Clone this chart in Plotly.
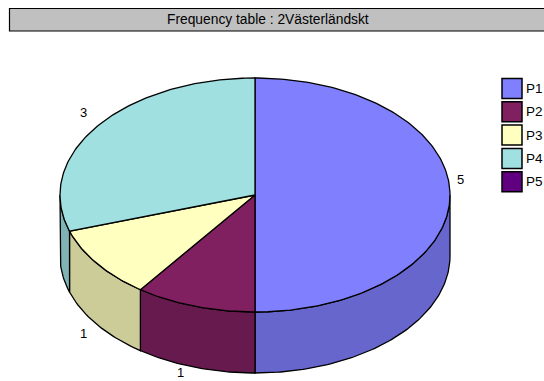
import numpy as np
import plotly.graph_objects as go

title = "Frequency table : 2Västerländskt"
categories = ["P1", "P2", "P3", "P4", "P5"]
frequencies = [5, 1, 1, 3, 0]
top_colors = ["#8080FF", "#802060", "#FFFFC0", "#A0E0E0", "#600080"]
wall_colors = ["#6666CC", "#661A4D", "#CCCC99", "#80B3B3", "#4D0066"]

WIDTH, HEIGHT = 544, 381
CX, CY, RX, RY, DEPTH = 255, 195, 195, 117, 61
OUTLINE = "#000000"
FONT = "Liberation Sans"


def ellipse(start, end, drop=0.0):
    """Rim points between two clockwise angles measured from twelve o'clock."""
    steps = max(2, int(abs(end - start) * 60) + 2)
    t = np.linspace(start, end, steps)
    return CX + RX * np.sin(t), CY - RY * np.cos(t) + drop


fig = go.Figure()

total = sum(frequencies)
edges = np.concatenate([[0], np.cumsum(frequencies)]) / total * 2 * np.pi

# Outer walls, only the part of each slice on the near half of the disc
for i in range(len(categories)):
    a = max(edges[i], np.pi / 2)
    b = min(edges[i + 1], 3 * np.pi / 2)
    if b <= a:
        continue
    xt, yt = ellipse(a, b)
    xb, yb = ellipse(b, a, DEPTH)
    fig.add_trace(go.Scatter(
        x=np.concatenate([xt, xb, xt[:1]]),
        y=np.concatenate([yt, yb, yt[:1]]),
        mode="lines", fill="toself", fillcolor=wall_colors[i],
        line=dict(color=OUTLINE, width=1.3), hoverinfo="skip", showlegend=False,
    ))

# Top faces of the slices
for i, name in enumerate(categories):
    if frequencies[i] == 0:
        continue
    xr, yr = ellipse(edges[i], edges[i + 1])
    fig.add_trace(go.Scatter(
        x=np.concatenate([[CX], xr, [CX]]),
        y=np.concatenate([[CY], yr, [CY]]),
        mode="lines", fill="toself", fillcolor=top_colors[i],
        line=dict(color=OUTLINE, width=1.3), name=name, showlegend=False,
        hovertemplate=f"{name}: {frequencies[i]}<extra></extra>",
    ))

# Key on the right: one square swatch per category
key_y = [88.5 + 23.3 * i for i in range(len(categories))]
fig.add_trace(go.Scatter(
    x=[512] * len(categories), y=key_y, mode="markers",
    marker=dict(symbol="square", size=20, color=top_colors,
                line=dict(color="#000000", width=1.5)),
    hoverinfo="skip", showlegend=False,
))

annotations = [
    dict(x=526, y=y, xref="x", yref="y", text=c, showarrow=False, xanchor="left",
         xshift=-2, font=dict(family=FONT, size=13.5, color="#000000"))
    for c, y in zip(categories, key_y)
]

# Value labels placed around the disc
value_labels = [("5", 460, 179), ("1", 180, 372.5), ("1", 83, 333), ("3", 83, 112)]
annotations += [
    dict(x=x, y=y, xref="x", yref="y", text=t, showarrow=False, borderpad=0,
         font=dict(family=FONT, size=13, color="#000000"))
    for t, x, y in value_labels
]
annotations.append(dict(
    x=268, y=19.5, xref="x", yref="y", text=title, showarrow=False,
    font=dict(family=FONT, size=13.8, color="#000000"),
))

fig.update_layout(
    width=WIDTH, height=HEIGHT, margin=dict(l=0, r=0, t=0, b=0),
    paper_bgcolor="white", plot_bgcolor="white", showlegend=False,
    xaxis=dict(range=[0, WIDTH], visible=False, fixedrange=True),
    yaxis=dict(range=[HEIGHT, 0], visible=False, fixedrange=True),
    shapes=[dict(type="rect", xref="x", yref="y", x0=9.5, x1=560, y0=8.5, y1=31,
                 fillcolor="#C0C0C0", line=dict(color="#000000", width=1.2), layer="below")],
    annotations=annotations,
)

fig.write_html("out.html", config={"displayModeBar": False})
